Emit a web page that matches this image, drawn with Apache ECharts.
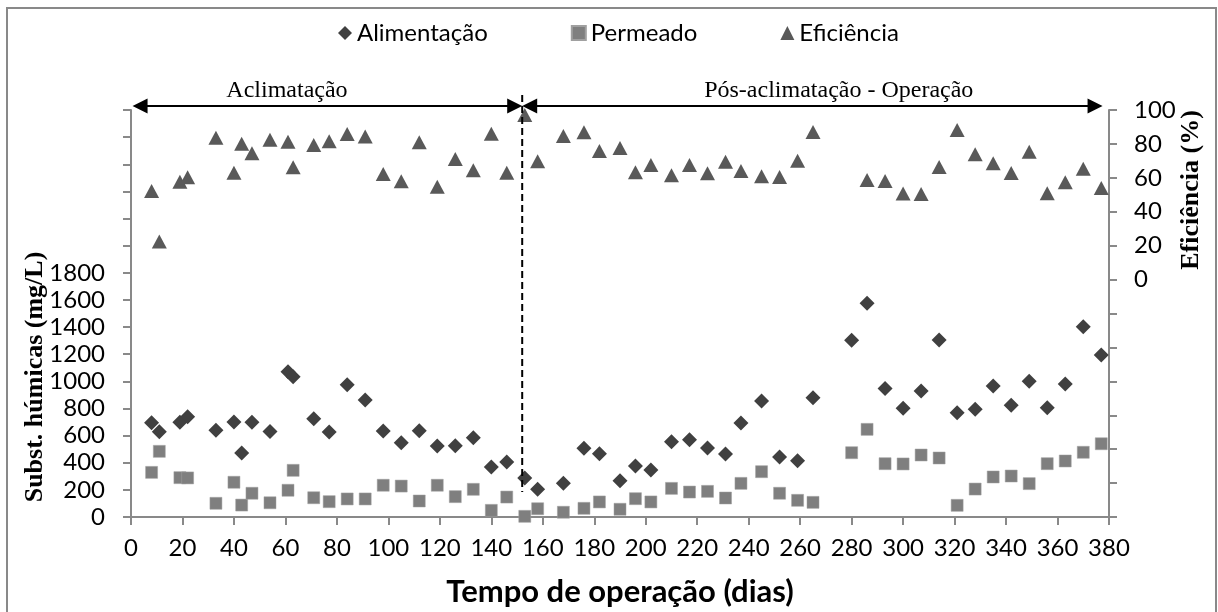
<!DOCTYPE html>
<html>
<head>
<meta charset="utf-8">
<script src="https://cdn.jsdelivr.net/npm/echarts@6/dist/echarts.min.js"></script>
<style>html,body{margin:0;padding:0;background:#fff}#c{width:1218px;height:612px}</style>
</head>
<body>
<div id="c"></div>
<script>
// ---- data ----
const days = [8, 11, 19, 22, 33, 40, 43, 47, 54, 61, 63, 71, 77, 84, 91, 98, 105, 112, 119, 126, 133, 140, 146, 153, 158, 168, 176, 182, 190, 196, 202, 210, 217, 224, 231, 237, 245, 252, 259, 265, 280, 286, 293, 300, 307, 314, 321, 328, 335, 342, 349, 356, 363, 370, 377];
const alimentacao = [695, 629, 698, 739, 639, 700, 472, 698, 631, 1071, 1034, 725, 626, 975, 862, 634, 548, 636, 523, 526, 585, 368, 405, 287, 204, 248, 506, 467, 268, 376, 346, 555, 570, 509, 464, 693, 855, 442, 415, 879, 1302, 1575, 948, 801, 929, 1304, 769, 794, 965, 823, 1000, 806, 980, 1403, 1194];
const permeado = [329, 484, 290, 288, 101, 256, 88, 175, 105, 197, 344, 142, 113, 133, 133, 234, 228, 118, 234, 150, 204, 49, 147, 5, 61, 35, 64, 111, 57, 135, 111, 211, 184, 189, 140, 248, 334, 175, 123, 108, 474, 646, 393, 391, 457, 435, 86, 206, 295, 302, 246, 393, 413, 477, 540];
const eficiencia = [52.2, 22.4, 57.7, 60.3, 83.7, 63, 80.1, 74.5, 82.5, 81.3, 66.2, 79.4, 81.5, 85.9, 84.3, 62.3, 58, 81, 54.8, 71.1, 64.4, 86, 63, 97, 69.8, 84.7, 86.9, 75.8, 77.6, 63.3, 67.6, 61.5, 67.6, 62.7, 69.5, 64, 60.9, 60.5, 70.1, 87, null, 58.7, 58.1, 50.7, 50.5, 66.4, 88.2, 73.9, 68.6, 62.9, 75.4, 50.9, 57.4, 65.4, 54];
const seriesNames = ['Alimentação', 'Permeado', 'Eficiência'];
const phaseBounds = [0.6, 152, 377.5];          // arrow ends / divider (days)
const phaseLabels = ['Aclimatação', 'Pós-aclimatação - Operação'];
const phaseLabelDays = [60.6, 275];
const xTitle = 'Tempo de operação (dias)';
const yLeftTitle = 'Subst. húmicas (mg/L)';
const yRightTitle = 'Eficiência (%)';

const SANS = 'Lato';
const SERIF = '"Liberation Serif", "Times New Roman", serif';
const AX = '#898989';

const pairs = (vals) => days.map((d, i) => [d, vals[i]]).filter(p => p[1] !== null);

const chart = echarts.init(document.getElementById('c'), null, {renderer: 'canvas'});
const grid = {left: 131, right: 109, top: 110, bottom: 95, containLabel: false};

chart.setOption({
  animation: false,
  backgroundColor: '#fff',
  grid: grid,
  legend: {
    left: 333, top: 16,
    itemGap: 83, itemWidth: 14, itemHeight: 14,
    textStyle: {fontFamily: SANS, fontSize: 24, color: '#000'},
    data: seriesNames
  },
  xAxis: {
    type: 'value', min: 0, max: 380, interval: 20,
    axisLine: {show: true, lineStyle: {color: AX, width: 2}},
    axisTick: {show: true, length: 8, lineStyle: {color: AX, width: 2}},
    axisLabel: {fontFamily: SANS, fontSize: 24, color: '#000', margin: 19},
    splitLine: {show: false}
  },
  yAxis: [{
    type: 'value', min: 0, max: 3000, interval: 200,
    axisLine: {show: true, lineStyle: {color: AX, width: 2}},
    axisTick: {show: true, length: 8, lineStyle: {color: AX, width: 2}},
    axisLabel: {fontFamily: SANS, fontSize: 24, color: '#000', margin: 26,
      formatter: v => (v <= 1800 ? String(v) : '')},
    splitLine: {show: false}
  }, {
    type: 'value', min: -140, max: 100, interval: 20, position: 'right',
    axisLine: {show: true, lineStyle: {color: AX, width: 2}},
    axisTick: {show: true, length: 8, lineStyle: {color: AX, width: 2}},
    axisLabel: {fontFamily: SANS, fontSize: 24, color: '#000', margin: 25,
      formatter: v => (v >= 0 ? String(v) : '')},
    splitLine: {show: false}
  }],
  series: [{
    name: seriesNames[0], type: 'scatter', yAxisIndex: 0, symbol: 'diamond', symbolSize: 15,
    itemStyle: {color: '#404040', opacity: 1}, data: pairs(alimentacao), clip: false
  }, {
    name: seriesNames[1], type: 'scatter', yAxisIndex: 0, symbol: 'rect', symbolSize: 12,
    itemStyle: {color: '#7f7f7f', borderColor: '#a0a0a0', borderWidth: 0.5, opacity: 1}, data: pairs(permeado), clip: false
  }, {
    name: seriesNames[2], type: 'scatter', yAxisIndex: 1, symbol: 'triangle', symbolSize: [15, 14],
    itemStyle: {color: '#595959', opacity: 1}, data: pairs(eficiencia), clip: false
  }]
});

// ---- annotations positioned through the axes ----
const px = d => chart.convertToPixel({xAxisIndex: 0}, d);
const yTop = chart.convertToPixel({yAxisIndex: 1}, 100);
const yBottom = chart.convertToPixel({yAxisIndex: 1}, -140);
const arrowY = yTop - 4;
const xa = px(phaseBounds[0]), xm = px(phaseBounds[1]), xb = px(phaseBounds[2]);
const AH = 15, AW = 7.5;
function head(tipX, dir) { // dir: +1 points right, -1 points left
  return {type: 'polygon', shape: {points: [[tipX, arrowY], [tipX - dir * AH, arrowY - AW], [tipX - dir * AH, arrowY + AW]]},
    style: {fill: '#000'}, z: 100};
}
const g = [
  {type: 'rect', shape: {x: 7, y: 8, width: 1209, height: 612}, style: {fill: 'none', stroke: AX, lineWidth: 2}, z: 0},
  {type: 'line', shape: {x1: xa + AH - 1, y1: arrowY, x2: xm - AH + 1, y2: arrowY}, style: {stroke: '#000', lineWidth: 2}, z: 100},
  {type: 'line', shape: {x1: xm + AH - 1, y1: arrowY, x2: xb - AH + 1, y2: arrowY}, style: {stroke: '#000', lineWidth: 2}, z: 100},
  head(xa, -1), head(xm, 1), head(xm, -1), head(xb, 1),
  {type: 'line', shape: {x1: xm, y1: arrowY - 11, x2: xm, y2: yBottom - 25}, style: {stroke: '#000', lineWidth: 2, lineDash: [7, 4]}, z: 100},
  {type: 'text', x: px(phaseLabelDays[0]), y: arrowY - 15, style: {text: phaseLabels[0], font: '24px ' + SERIF, fill: '#000', align: 'center', verticalAlign: 'middle'}, z: 100},
  {type: 'text', x: px(phaseLabelDays[1]), y: arrowY - 15, style: {text: phaseLabels[1], font: '24px ' + SERIF, fill: '#000', align: 'center', verticalAlign: 'middle'}, z: 100},
  {type: 'text', x: 620, y: 592, style: {text: xTitle, font: 'bold 31px ' + SANS, fill: '#000', align: 'center', verticalAlign: 'middle'}, z: 100},
  {type: 'text', x: 35, y: 377, rotation: Math.PI / 2, style: {text: yLeftTitle, font: 'bold 26px ' + SERIF, fill: '#000', align: 'center', verticalAlign: 'middle'}, z: 100},
  {type: 'text', x: 1191, y: 190, rotation: Math.PI / 2, style: {text: yRightTitle, font: 'bold 26px ' + SERIF, fill: '#000', align: 'center', verticalAlign: 'middle'}, z: 100}
];
chart.setOption({graphic: g});
</script>
</body>
</html>
